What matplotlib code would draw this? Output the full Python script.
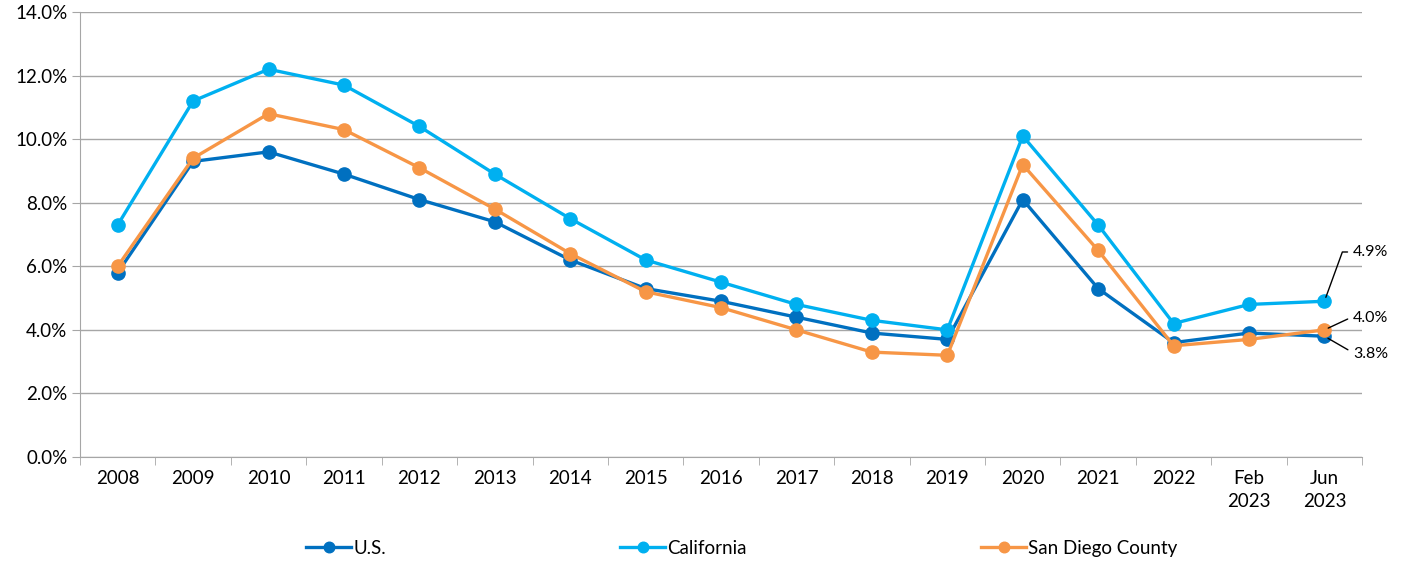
import matplotlib.pyplot as plt
from matplotlib.ticker import FuncFormatter, FixedLocator

plt.rcParams['font.family'] = ['Lato', 'DejaVu Sans']

# Unemployment rate (%) by period
periods = ["2008", "2009", "2010", "2011", "2012", "2013", "2014", "2015", "2016",
           "2017", "2018", "2019", "2020", "2021", "2022", "Feb\n2023", "Jun\n2023"]
us = [5.8, 9.3, 9.6, 8.9, 8.1, 7.4, 6.2, 5.3, 4.9, 4.4, 3.9, 3.7, 8.1, 5.3, 3.6, 3.9, 3.8]
california = [7.3, 11.2, 12.2, 11.7, 10.4, 8.9, 7.5, 6.2, 5.5, 4.8, 4.3, 4.0, 10.1, 7.3, 4.2, 4.8, 4.9]
san_diego = [6.0, 9.4, 10.8, 10.3, 9.1, 7.8, 6.4, 5.2, 4.7, 4.0, 3.3, 3.2, 9.2, 6.5, 3.5, 3.7, 4.0]

series = [("U.S.", us, "#0070C0"),
          ("California", california, "#00B0F0"),
          ("San Diego County", san_diego, "#F79646")]

fig = plt.figure(figsize=(14.13, 5.64), dpi=100)
ax = fig.add_axes([0.0566, 0.1897, 0.9074, 0.789])

x = list(range(len(periods)))
for name, vals, color in series:
    ax.plot(x, vals, color=color, lw=2.4, marker="o", markersize=9.5, label=name)

ax.set_xlim(-0.5, len(periods) - 0.5)
ax.set_ylim(0, 14)
ax.set_yticks([0, 2, 4, 6, 8, 10, 12, 14])
ax.yaxis.set_major_formatter(FuncFormatter(lambda v, p: f"{v:.1f}%"))
ax.grid(axis="y", color="#A6A6A6", lw=1)
ax.set_axisbelow(True)

ax.set_xticks(x)
ax.set_xticklabels(periods, va="top", linespacing=1.45)
ax.xaxis.set_minor_locator(FixedLocator([i - 0.5 for i in range(len(periods) + 1)]))
ax.tick_params(axis="x", which="major", length=0, pad=9, labelsize=13.5)
ax.tick_params(axis="x", which="minor", length=6, color="#A6A6A6")
ax.tick_params(axis="y", length=6, color="#A6A6A6", labelsize=13.5, pad=3)

for s in ["top", "right"]:
    ax.spines[s].set_visible(False)
for s in ["left", "bottom"]:
    ax.spines[s].set_color("#A6A6A6")

# end-point callouts
last = len(periods) - 1
callouts = [(california[-1], 6.45, 70), (san_diego[-1], 4.37, 25), (us[-1], 3.25, -30)]
for val, ty, ang in callouts:
    ax.annotate(f"{val:.1f}%", xy=(last, val), xytext=(last + 0.38, ty),
                ha="left", va="center", fontsize=11.5, annotation_clip=False,
                arrowprops=dict(arrowstyle="-", color="black", lw=1, shrinkA=2, shrinkB=3,
                                relpos=(0, 0.5),
                                connectionstyle=f"angle,angleA=0,angleB={ang},rad=0"))

fig.legend(loc="center", bbox_to_anchor=(0.525, 0.028), ncol=3, frameon=False,
           fontsize=13.5, handlelength=2.4, columnspacing=12.5, handletextpad=0.1,
           markerscale=0.8)

fig.savefig("out.png", dpi=100)
